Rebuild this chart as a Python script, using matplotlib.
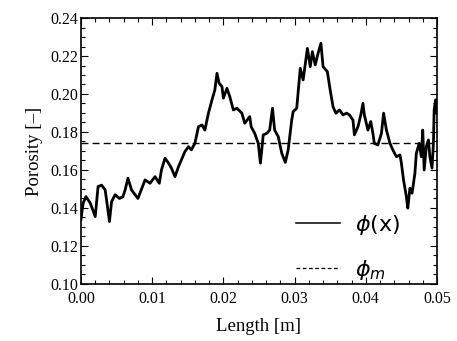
import matplotlib
matplotlib.use("Agg")
from matplotlib import pyplot as plt
from matplotlib.ticker import MultipleLocator

# porosity profile
length = [0.0000, 0.0003, 0.0007, 0.0013, 0.0020, 0.0024, 0.0029, 0.0034, 0.0040, 0.0043,
          0.0048, 0.0054, 0.0059, 0.0062, 0.0066, 0.0071, 0.0080, 0.0090, 0.0097, 0.0104,
          0.0110, 0.0113, 0.0118, 0.0123, 0.0127, 0.0132, 0.0137, 0.0141, 0.0146, 0.0151,
          0.0155, 0.0160, 0.0165, 0.0170, 0.0174, 0.0179, 0.0184, 0.0188, 0.0191, 0.0194,
          0.0198, 0.0200, 0.0205, 0.0209, 0.0214, 0.0219, 0.0226, 0.0230, 0.0237, 0.0239,
          0.0244, 0.0249, 0.0252, 0.0256, 0.0261, 0.0265, 0.0269, 0.0272, 0.0277, 0.0282,
          0.0287, 0.0291, 0.0296, 0.0298, 0.0303, 0.0308, 0.0312, 0.0318, 0.0322, 0.0325,
          0.0329, 0.0333, 0.0337, 0.0340, 0.0346, 0.0350, 0.0354, 0.0358, 0.0363, 0.0368,
          0.0373, 0.0377, 0.0382, 0.0384, 0.0389, 0.0393, 0.0396, 0.0398, 0.0403, 0.0407,
          0.0410, 0.0412, 0.0417, 0.0422, 0.0425, 0.0429, 0.0434, 0.0438, 0.0443, 0.0448,
          0.0450, 0.0453, 0.0457, 0.0459, 0.0462, 0.0465, 0.0469, 0.0471, 0.0475, 0.0478,
          0.0480, 0.0482, 0.0485, 0.0488, 0.0490, 0.0493, 0.0495, 0.0496, 0.0498, 0.0500]
porosity = [0.134, 0.1425, 0.146, 0.1426, 0.1355, 0.1513, 0.152, 0.1495, 0.1329, 0.1434,
            0.147, 0.145, 0.146, 0.1495, 0.1557, 0.1495, 0.145, 0.1548, 0.153, 0.1565,
            0.153, 0.160, 0.1662, 0.1636, 0.161, 0.1565, 0.1618, 0.1653, 0.1697, 0.1723,
            0.1706, 0.174, 0.1828, 0.1837, 0.181, 0.1899, 0.1969, 0.2021, 0.2109, 0.2057,
            0.2039, 0.1978, 0.203, 0.1986, 0.1916, 0.1925, 0.1899, 0.1846, 0.1881, 0.1828,
            0.1793, 0.174, 0.1636, 0.1785, 0.1793, 0.181, 0.1925, 0.181, 0.1776, 0.1688,
            0.164, 0.1706, 0.1863, 0.1907, 0.1925, 0.2135, 0.2074, 0.224, 0.2144, 0.2223,
            0.2153, 0.2214, 0.2267, 0.2144, 0.2118, 0.2021, 0.1933, 0.1899, 0.1916, 0.189,
            0.1899, 0.189, 0.1863, 0.1785, 0.1828, 0.189, 0.1951, 0.189, 0.181, 0.1855,
            0.1793, 0.174, 0.1732, 0.1793, 0.1899, 0.181, 0.174, 0.1706, 0.167, 0.1679,
            0.1636, 0.1548, 0.146, 0.1399, 0.1504, 0.1478, 0.1583, 0.1688, 0.174, 0.167,
            0.181, 0.160, 0.1723, 0.1758, 0.167, 0.161, 0.174, 0.1916, 0.1969, 0.1899]
phi_mean = 0.174

xticks = [0.00, 0.01, 0.02, 0.03, 0.04, 0.05]
yticks = [0.10, 0.12, 0.14, 0.16, 0.18, 0.20, 0.22, 0.24]

fig = plt.figure(figsize=(4.57, 3.41), dpi=100)
ax = fig.add_axes([0.1772, 0.1672, 0.779, 0.780])

ax.plot(length, porosity, color="black", lw=2.0, label=r"$\phi$(x)")
ax.axhline(phi_mean, color="black", lw=1.0, ls=(0, (5, 3)), label=r"$\phi_m$")

ax.set_xlim(0, 0.05)
ax.set_ylim(0.10, 0.24)
ax.set_xticks(xticks)
ax.set_yticks(yticks)
ax.set_xticklabels([f"{t:.2f}" for t in xticks])
ax.set_yticklabels([f"{t:.2f}" for t in yticks])
ax.xaxis.set_minor_locator(MultipleLocator(0.002))
ax.yaxis.set_minor_locator(MultipleLocator(0.005))
ax.tick_params(which="both", direction="in", top=True, right=True, width=0.8, color="black")
ax.tick_params(which="major", length=5, labelsize=11.5)
ax.tick_params(axis="x", which="major", pad=5)
ax.tick_params(axis="y", which="major", pad=2)
ax.tick_params(which="minor", length=3)
for lab in ax.get_xticklabels() + ax.get_yticklabels():
    lab.set_family("Liberation Serif")
for s in ax.spines.values():
    s.set_linewidth(1.2)

ax.set_xlabel("Length [m]", family="Liberation Serif", fontsize=13.5, labelpad=8)
ax.set_ylabel("Porosity [\u2013]", family="Liberation Serif", fontsize=13.5, labelpad=5)

leg = ax.legend(loc="lower left", bbox_to_anchor=(0.592, -0.01), frameon=False,
                borderaxespad=0, borderpad=0.2,
                fontsize=16, handlelength=1.95, handletextpad=0.7, labelspacing=0.95)
for t in leg.get_texts():
    t.set_family("DejaVu Sans")
# legend samples are drawn thinner than the curve itself
leg.get_lines()[0].set_linewidth(1.1)
leg.get_lines()[1].set_linewidth(0.9)
leg.get_lines()[1].set_dashes((3, 2))

fig.savefig("out.png", dpi=100)
